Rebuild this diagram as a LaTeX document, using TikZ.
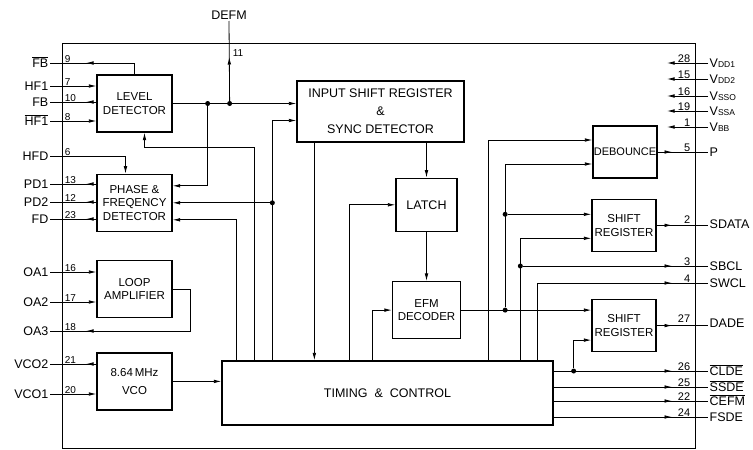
\documentclass[tikz,border=0pt]{standalone}
\usepackage{fontspec}
\setmainfont{Liberation Sans}
\usetikzlibrary{arrows.meta, positioning, decorations.markings}

\begin{document}
\begin{tikzpicture}[
    x=1pt, y=1pt,
    node distance=40pt,
    blk/.style={draw, rectangle, line width=1.3pt, minimum width=75pt, minimum height=57pt, align=center, inner sep=1pt, font=\fontsize{11.5}{13.5}\selectfont},
    smallblk/.style={blk, minimum width=64pt, minimum height=52pt},
    pinl/.style={anchor=east, inner sep=1.5pt, text height=8.9pt, text depth=0pt, font=\fontsize{12.5}{12.5}\selectfont},
    pinr/.style={pinl, anchor=west},
    pnum/.style={inner sep=0.6pt, font=\fontsize{10}{10}\selectfont},
    pnumr/.style={pnum, anchor=south east, font=\fontsize{11}{11}\selectfont},
    dot/.style={circle, fill, inner sep=0pt, minimum size=5pt},
    wire/.style={line width=0.8pt},
    arrow/.style={wire, -{Latex[length=7.5pt, width=3.6pt]}},
    outarrow/.style={wire, postaction={decorate}, decoration={markings, mark=at position -36pt with {\arrow{Latex[length=7.5pt, width=3.6pt]}}}}
]
\useasboundingbox (0,0) rectangle (753,-450);

% chip outline
\draw[wire] (62,-43) rectangle (695,-448);

% blocks
\node[blk] (ld) at (134.5,-103.5) {LEVEL\\DETECTOR};
\node[blk, below=41pt of ld] (pfd) {PHASE \&\\FREQENCY\\DETECTOR};
\node[blk, below=28pt of pfd] (loop) {LOOP\\AMPLIFIER};
\node[blk, below=34pt of loop] (vco) {8.64\,MHz\\[4pt]VCO};
\node[blk, minimum width=167pt, minimum height=61pt, font=\fontsize{12.5}{18}\selectfont] (isr) at (380.5,-111.5) {INPUT SHIFT REGISTER\\\&\\SYNC DETECTOR};
\node[blk, minimum width=61pt, minimum height=53pt, font=\fontsize{12.5}{15}\selectfont, below=35pt of isr, xshift=46pt] (latch) {LATCH};
\node[blk, minimum width=68pt, minimum height=57pt, below=49pt of latch] (efm) {EFM\\DECODER};
\node[blk, minimum width=331pt, minimum height=64pt, font=\fontsize{12.5}{14}\selectfont] (tc) at (387.5,-393) {TIMING\ \ \&\ \ CONTROL};
\node[smallblk, inner sep=0.3pt, font=\fontsize{11}{13}\selectfont] (deb) at (625,-152) {DEBOUNCE};
\node[smallblk, below=20pt of deb, xshift=-1pt] (sr1) {SHIFT\\REGISTER};
\node[smallblk, below=47pt of sr1] (sr2) {SHIFT\\REGISTER};

% left pins
\node[pinl] (fbn) at (50,-63) {$\overline{\mbox{FB}}$};
\node[pinl] (hf1) at (50,-86) {HF1};
\node[pinl] (fb) at (50,-102) {FB};
\node[pinl] (hf1n) at (50,-121) {$\overline{\mbox{HF1}}$};
\node[pinl] (hfd) at (50,-156) {HFD};
\node[pinl] (pd1) at (50,-184) {PD1};
\node[pinl] (pd2) at (50,-202) {PD2};
\node[pinl] (fd) at (50,-219) {FD};
\node[pinl] (oa1) at (50,-272) {OA1};
\node[pinl] (oa2) at (50,-302) {OA2};
\node[pinl] (oa3) at (50,-331) {OA3};
\node[pinl] (vco2) at (50,-364) {VCO2};
\node[pinl] (vco1) at (50,-394) {VCO1};
\node[pnum, anchor=south west] (n9) at (64,-63) {9};
\node[pnum, anchor=south west] (n7) at (64,-86) {7};
\node[pnum, anchor=south west] (n10) at (64,-102) {10};
\node[pnum, anchor=south west] (n8) at (64,-121) {8};
\node[pnum, anchor=south west] (n6) at (64,-156) {6};
\node[pnum, anchor=south west] (n13) at (64,-184) {13};
\node[pnum, anchor=south west] (n12) at (64,-202) {12};
\node[pnum, anchor=south west] (n23) at (64,-219) {23};
\node[pnum, anchor=south west] (n16) at (64,-272) {16};
\node[pnum, anchor=south west] (n17) at (64,-302) {17};
\node[pnum, anchor=south west] (n18) at (64,-331) {18};
\node[pnum, anchor=south west] (n21) at (64,-364) {21};
\node[pnum, anchor=south west] (n20) at (64,-394) {20};

% top pin
\node[pinl, anchor=south] (defm) at (229,-21) {DEFM};
\node[pnum, anchor=west] (n11) at (232,-53) {11};

% right pins
\node[pinr] (vdd1) at (708,-63) {V{\fontsize{8.5}{8.5}\selectfont DD1}};
\node[pinr] (vdd2) at (708,-79) {V{\fontsize{8.5}{8.5}\selectfont DD2}};
\node[pinr] (vsso) at (708,-96) {V{\fontsize{8.5}{8.5}\selectfont SSO}};
\node[pinr] (vssa) at (708,-111) {V{\fontsize{8.5}{8.5}\selectfont SSA}};
\node[pinr] (vbb) at (708,-127) {V{\fontsize{8.5}{8.5}\selectfont BB}};
\node[pinr] (p) at (708,-152) {P};
\node[pinr] (sdata) at (708,-224) {SDATA};
\node[pinr] (sbcl) at (708,-266) {SBCL};
\node[pinr] (swcl) at (708,-283) {SWCL};
\node[pinr] (dade) at (708,-323) {DADE};
\node[pinr] (clde) at (708,-371) {$\overline{\mbox{CLDE}}$};
\node[pinr] (ssde) at (708,-387) {$\overline{\mbox{SSDE}}$};
\node[pinr] (cefm) at (708,-401) {$\overline{\mbox{CEFM}}$};
\node[pinr] (fsde) at (708,-417) {FSDE};
\node[pnumr] (n28) at (691,-63) {28};
\node[pnumr] (n15) at (691,-79) {15};
\node[pnumr] (n16r) at (691,-96) {16};
\node[pnumr] (n19) at (691,-111) {19};
\node[pnumr] (n1) at (691,-127) {1};
\node[pnumr] (n5) at (691,-152) {5};
\node[pnumr] (n2) at (691,-224) {2};
\node[pnumr] (n3) at (691,-266) {3};
\node[pnumr] (n4) at (691,-283) {4};
\node[pnumr] (n27) at (691,-323) {27};
\node[pnumr] (n26) at (691,-371) {26};
\node[pnumr] (n25) at (691,-387) {25};
\node[pnumr] (n22) at (691,-401) {22};
\node[pnumr] (n24) at (691,-417) {24};

% supply pins
\draw[arrow] (vdd1.west) -- ++(-41,0);
\draw[arrow] (vdd2.west) -- ++(-41,0);
\draw[arrow] (vsso.west) -- ++(-41,0);
\draw[arrow] (vssa.west) -- ++(-41,0);
\draw[arrow] (vbb.west) -- ++(-41,0);

% level detector
\draw[outarrow] (ld.north) |- (fbn.east);
\draw[arrow] (hf1.east) -- (hf1.east -| ld.west);
\draw[outarrow] (fb.east -| ld.west) -- (fb.east);
\draw[arrow] (hf1n.east) -- (hf1n.east -| ld.west);

% phase and frequency detector
\draw[arrow] (hfd.east) -| ([xshift=-9pt]pfd.north);
\draw[outarrow] (pd1.east -| pfd.west) -- (pd1.east);
\draw[outarrow] (pd2.east -| pfd.west) -- (pd2.east);
\draw[outarrow] (fd.east -| pfd.west) -- (fd.east);

% level detector output
\node[dot] (ja) at ([xshift=35pt]ld.east) {};
\node[dot] (jb) at ([xshift=57pt]ld.east) {};
\draw[arrow] (ld.east) -- (ld.east -| isr.west);
\draw[arrow] (ja) |- ([yshift=17pt]pfd.east);
\draw[outarrow] (jb) -- (defm.south);

% taps on timing & control
\coordinate (t1) at ([xshift=15pt]tc.north west);
\coordinate (t2) at ([xshift=33pt]tc.north west);
\coordinate (t3) at ([xshift=51pt]tc.north west);
\coordinate (t4) at ([xshift=93pt]tc.north west);
\coordinate (t5) at ([xshift=128pt]tc.north west);
\coordinate (t6) at ([xshift=151pt]tc.north west);
\coordinate (t7) at ([xshift=267pt]tc.north west);
\coordinate (t8) at ([xshift=299pt]tc.north west);
\coordinate (t9) at ([xshift=316pt]tc.north west);

\draw[arrow] (t1) |- ([yshift=-17pt]pfd.east);
\draw[arrow] (t2) -- ++(0,213) -| ([xshift=10pt]ld.south);
\draw[arrow] (t3) |- ([yshift=-9pt]isr.west);
\node[dot] (jc) at (t3 |- pfd.east) {};
\draw[arrow] (jc) -- (pfd.east);
\draw[arrow] (isr.south -| t4) -- (t4);
\draw[arrow] (isr.south -| latch.north) -- (latch.north);
\draw[arrow] (t5) |- (latch.west);
\draw[arrow] (latch.south) -- (efm.north);
\draw[arrow] (t6) |- (efm.west);

% decoder output
\coordinate (sr1in) at ([yshift=11pt]sr1.west);
\draw[arrow] (efm.east) -- (efm.east -| sr2.west);
\node[dot] (jd) at ([xshift=44pt]efm.east) {};
\node[dot] (je) at (jd |- sr1in) {};
\draw[arrow] (jd) |- ([yshift=-12pt]deb.west);
\draw[arrow] (je) -- (sr1in);
\draw[arrow] (t7) |- ([yshift=12pt]deb.west);
\draw[arrow] (t8) |- ([yshift=-13pt]sr1.west);
\node[dot] (jf) at (t8 |- sbcl.west) {};
\draw[outarrow] (jf) -- (sbcl.west);
\draw[outarrow] (t9) |- (swcl.west);

% timing & control outputs
\coordinate (cl) at (clde.west -| tc.east);
\draw[outarrow] (cl) -- (clde.west);
\draw[outarrow] (ssde.west -| tc.east) -- (ssde.west);
\draw[outarrow] (cefm.west -| tc.east) -- (cefm.west);
\draw[outarrow] (fsde.west -| tc.east) -- (fsde.west);
\node[dot] (jg) at ([xshift=20pt]cl) {};
\draw[arrow] (jg) |- ([yshift=-14.5pt]sr2.west);

% right blocks to pins
\draw[outarrow] (deb.east) -- (deb.east -| p.west);
\draw[outarrow] (sr1.east) -- (sr1.east -| sdata.west);
\draw[outarrow] (sr2.east) -- (sr2.east -| dade.west);

% loop amplifier
\draw[arrow] (oa1.east) -- (oa1.east -| loop.west);
\draw[arrow] (oa2.east) -- (oa2.east -| loop.west);
\draw[outarrow] (loop.east) -- ++(18,0) |- (oa3.east);

% vco
\draw[outarrow] (vco2.east -| vco.west) -- (vco2.east);
\draw[arrow] (vco1.east) -- (vco1.east -| vco.west);
\draw[arrow] (vco.east) -- (vco.east -| tc.west);

\end{tikzpicture}
\end{document}
